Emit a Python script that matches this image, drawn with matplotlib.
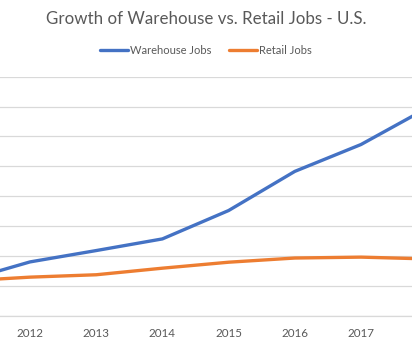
import matplotlib.pyplot as plt

plt.rcParams['font.family'] = ['Lato', 'DejaVu Sans']

# Données (milliers d'emplois, valeurs estimées)
years = [2011, 2012, 2013, 2014, 2015, 2016, 2017, 2018]
warehouse_jobs = [232, 360, 436, 514, 704, 966, 1146, 1390]
retail_jobs = [232, 258, 274, 318, 358, 386, 392, 380]
shown_years = years[1:-1]
year_labels = [str(y) for y in shown_years]

fig = plt.figure(figsize=(4.12, 3.44), dpi=100)
ax = fig.add_axes([0, 0.0823, 1, 0.6948])

ax.plot(years, warehouse_jobs, color='#4472C4', lw=2.4, label='Warehouse Jobs',
        solid_capstyle='round', solid_joinstyle='round')
ax.plot(years, retail_jobs, color='#ED7D31', lw=2.4, label='Retail Jobs',
        solid_capstyle='round', solid_joinstyle='round')

ax.set_xticks(shown_years)
ax.set_xticklabels(year_labels)
ax.set_yticks(range(0, 1601, 200))
# le graphique d'origine est rogné à gauche et à droite
ax.set_xlim(2011.547, 2017.77)
ax.set_ylim(0, 1600)
ax.grid(axis='y', color='#D9D9D9', lw=0.9)
ax.set_axisbelow(True)
for side in ['top', 'left', 'right']:
    ax.spines[side].set_visible(False)
ax.spines['bottom'].set_color('#D9D9D9')
ax.spines['bottom'].set_linewidth(0.9)
ax.tick_params(axis='x', length=0, pad=9, labelsize=8.4, labelcolor='#595959')
ax.tick_params(axis='y', length=0, labelleft=False)

fig.text(0.5, 1 - 19 / 344, 'Growth of Warehouse vs. Retail Jobs - U.S.',
         ha='center', va='center', fontsize=12.2, color='#595959')
fig.legend(loc='center', bbox_to_anchor=(0.5, 1 - 50.7 / 344), ncol=2, frameon=False,
           fontsize=8, handlelength=2.5, handletextpad=0.2, columnspacing=1.6,
           labelcolor='#595959')

fig.savefig('out.png', dpi=100)
